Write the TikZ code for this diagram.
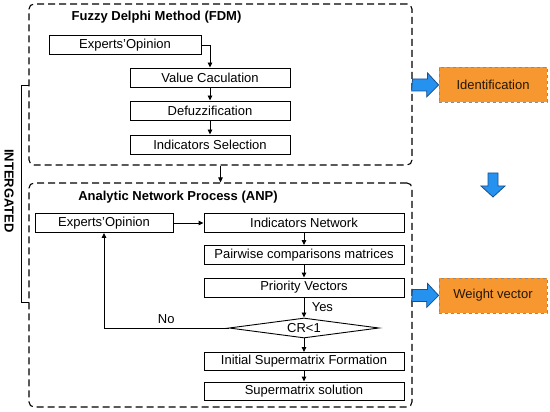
\documentclass[tikz,border=0pt]{standalone}
\usepackage{fontspec}
\setmainfont{Liberation Sans}
\usetikzlibrary{arrows.meta,shapes.geometric,calc}
\definecolor{ArrBlue}{HTML}{2592F0}
\definecolor{ArrEdge}{HTML}{1B4F8A}
\definecolor{OutFill}{HTML}{F7972F}
\definecolor{OutEdge}{HTML}{8C8C8C}

\begin{document}
\begin{tikzpicture}[x=1pt, y=-1pt, >={Triangle[length=5pt,width=4.5pt]},
            font=\fontsize{13}{15}\selectfont,
            step box/.style={draw=black, line width=0.9pt, minimum height=19pt,
                         inner sep=0pt},
            frame/.style={draw=black, line width=1.1pt, dash pattern=on 7pt off 4pt,
                          rounded corners=5pt, inner sep=0pt},
            result/.style={draw=OutEdge, fill=OutFill, dashed, line width=0.7pt,
                           minimum width=108pt, minimum height=35pt, inner sep=0pt,
                           text=black!85!OutFill},
            title/.style={font=\fontsize{13}{15}\selectfont\bfseries},
            flow/.style={->, line width=0.9pt},
            bigarrow/.style={draw=ArrEdge, fill=ArrBlue, line width=0.8pt}]
            \useasboundingbox (0,0) rectangle (550,412);

            % cadres
            \node[frame, minimum width=383pt, minimum height=161pt] (fdm) at (220.5,84.5) {};
            \node[frame, minimum width=383pt, minimum height=224pt] (anp) at (220.5,295) {};
            \node[title] (fdmt) at (156.5,17) {Fuzzy Delphi Method (FDM)};
            \node[title] (anpt) at (178,197) {Analytic Network Process (ANP)};

            % etapes FDM
            \node[step box, minimum width=152pt] (exp1) at (125,45) {Experts'Opinion};
            \node[step box, minimum width=160pt] (val) at (210,77.5) {Value Caculation};
            \node[step box, minimum width=160pt] (def) at (210,110.5) {Defuzzification};
            \node[step box, minimum width=160pt] (sel) at (210,144.5) {Indicators Selection};

            \draw[flow] (exp1.east) -| (val.north);
            \draw[flow] (val) -- (def);
            \draw[flow] (def) -- (sel);
            \draw[flow] (fdm.south) -- (anp.north);

            % etapes ANP
            \node[step box, minimum width=138pt] (exp2) at (104,223) {Experts'Opinion};
            \node[step box, minimum width=200pt] (net) at (304,223) {Indicators Network};
            \node[step box, minimum width=200pt] (pair) at (304,255) {Pairwise comparisons matrices};
            \node[step box, minimum width=200pt] (prio) at (304,287.5) {Priority Vectors};
            \node[diamond, draw, line width=0.9pt, aspect=7.5, inner sep=0.5pt,
                  minimum width=150pt, minimum height=20pt] (cr) at (304,328) {CR<1};
            \node[step box, minimum width=200pt, minimum height=18pt] (init) at (304,361.5) {Initial Supermatrix Formation};
            \node[step box, minimum width=200pt, minimum height=18pt] (sol) at (304,391) {Supermatrix solution};

            \draw[flow] (exp2) -- (net);
            \draw[flow] (net) -- (pair);
            \draw[flow] (pair) -- (prio);
            \draw[flow] (prio) -- node[right=4pt] (yes) {Yes} (cr);
            \draw[flow] (cr) -- (init);
            \draw[flow] (init) -- (sol);
            \draw[flow] (cr.west) -| node[pos=0.25, above=1pt] (no) {No} (exp2.south);

            % accolade
            \coordinate (bt) at (29,85);
            \coordinate (bb) at (29,302);
            \draw[line width=0.9pt] (bt) -- ++(-8,0) |- (bb);
            \node[title, rotate=-90] (integ) at (9,191) {INTERGATED};

            % resultats
            \node[result] (ident) at (493,85) {Identification};
            \node[result] (wvec) at (493,295.5) {Weight vector};

            \draw[bigarrow] ($(fdm.east |- ident.west)+(0,-6)$) -- ++(15,0) -- ++(0,-6)
                -- (ident.west) -- ++(-12,12) -- ++(0,-6) -- ++(-15,0) -- cycle;
            \draw[bigarrow] ($(anp.east |- wvec.west)+(0,-6)$) -- ++(15,0) -- ++(0,-6)
                -- (wvec.west) -- ++(-12,12) -- ++(0,-6) -- ++(-15,0) -- cycle;
            \coordinate (dtop) at (493,173);
            \draw[bigarrow] ($(dtop)+(-5,0)$) -- ++(10,0) -- ++(0,13) -- ++(7,0)
                -- ++(-12,11) -- ++(-12,-11) -- ++(7,0) -- cycle;
        \end{tikzpicture}
\end{document}
